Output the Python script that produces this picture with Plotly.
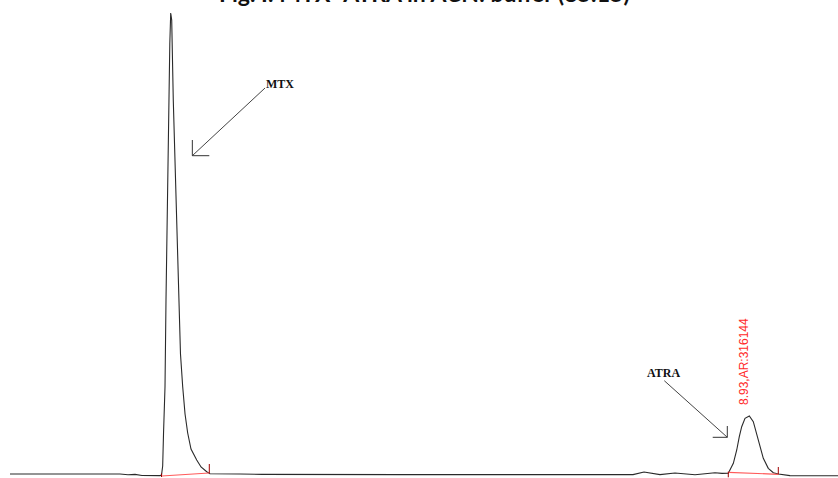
import plotly.graph_objects as go

# Chromatogram trace (time in min, detector response in mV)
time_min = [0.000, 0.121, 0.362, 0.604, 0.966, 1.329, 1.425, 1.510, 1.594, 1.751, 1.812, 1.830,
            1.844, 1.854, 1.872, 1.884, 1.900, 1.917, 1.930, 1.941, 1.953, 1.972, 2.005, 2.033,
            2.059, 2.086, 2.114, 2.146, 2.186, 2.255, 2.307, 2.376, 2.415, 2.778, 3.043, 4.710,
            7.524, 7.657, 7.754, 7.850, 8.031, 8.152, 8.273, 8.394, 8.514, 8.599, 8.675, 8.736,
            8.777, 8.808, 8.837, 8.877, 8.929, 8.977, 9.018, 9.058, 9.098, 9.158, 9.219, 9.279,
            9.420, 10.000]
signal_mv = [0.0, 0.0, -0.3, 0.2, 0.0, 0.0, -0.8, -0.4, -1.5, -1.8, -1.6, -1.0,
             8.0, 40.0, 87.0, 174.0, 274.0, 374.0, 430.0, 461.0, 454.0, 374.0, 274.0, 174.0,
             120.0, 87.0, 60.0, 41.0, 25.0, 14.0, 7.0, 2.3, 0.3, 0.0, -0.4, -0.6,
             -0.6, 2.0, 0.5, -0.6, 1.0, 0.3, -0.8, 0.3, 1.3, 0.6, 0.7, 10.7,
             24.0, 37.3, 47.3, 55.7, 58.0, 52.3, 40.7, 27.3, 15.7, 5.7, 1.3, 0.0,
             -1.6, -1.8]

# Integration baselines (start/end of each peak)
peak_names = ["MTX", "ATRA"]
peak_start_t = [1.830, 8.675]
peak_start_s = [-2.0, 1.7]
peak_end_t = [2.407, 9.279]
peak_end_s = [1.0, -0.3]
end_tick_top = [10.0, 7.0]
start_tick_top = [0.5, 2.3]
start_tick_bot = [-3.0, -3.3]

# Labels
peak_label = "8.93,AR:316144"
peak_label_t = 8.865
peak_label_s = 112
title_text = "Fig. I: MTX- ATRA in ACN: buffer (85:15)"

# Arrow annotations (label pos, arrow start, arrow tip, leg ends)
label_t = [3.255, 7.895]
label_s = [390, 101]
arrow_from_t = [3.080, 7.902]
arrow_from_s = [386, 93.3]
arrow_tip_t = [2.202, 8.663]
arrow_tip_s = [318.3, 36.7]
leg_v_s = [334, 48]
leg_h_t = [2.407, 8.487]

fig = go.Figure()
fig.add_trace(go.Scatter(x=time_min, y=signal_mv, mode="lines",
                         line=dict(color="#2a2a2a", width=1.1), hoverinfo="skip"))

for i in range(2):
    fig.add_trace(go.Scatter(x=[peak_start_t[i], peak_end_t[i]], y=[peak_start_s[i], peak_end_s[i]],
                             mode="lines", line=dict(color="#ff5a5a", width=1.2), hoverinfo="skip"))
    fig.add_trace(go.Scatter(x=[peak_end_t[i], peak_end_t[i]], y=[peak_end_s[i], end_tick_top[i]],
                             mode="lines", line=dict(color="#a00000", width=1), hoverinfo="skip"))
    fig.add_trace(go.Scatter(x=[peak_start_t[i], peak_start_t[i]], y=[start_tick_bot[i], start_tick_top[i]],
                             mode="lines", line=dict(color="#a00000", width=1), hoverinfo="skip"))
    # arrow line and L-shaped head
    fig.add_trace(go.Scatter(x=[arrow_from_t[i], arrow_tip_t[i]], y=[arrow_from_s[i], arrow_tip_s[i]],
                             mode="lines", line=dict(color="#444444", width=1), hoverinfo="skip"))
    fig.add_trace(go.Scatter(x=[arrow_tip_t[i], arrow_tip_t[i], leg_h_t[i]],
                             y=[leg_v_s[i], arrow_tip_s[i], arrow_tip_s[i]],
                             mode="lines", line=dict(color="#333333", width=1), hoverinfo="skip"))
    fig.add_annotation(x=label_t[i], y=label_s[i], text="<b>" + peak_names[i] + "</b>", showarrow=False,
                       font=dict(family="Liberation Serif", size=12, color="#111111"))

fig.add_annotation(x=peak_label_t, y=peak_label_s, text=peak_label, textangle=-90, showarrow=False,
                   font=dict(family="Liberation Sans", size=12, color="#ff2a2a"))

fig.add_annotation(x=0.5, y=1, xref="paper", yref="paper", xanchor="center", yanchor="bottom",
                   yshift=-9, text="<b>" + title_text + "</b>", showarrow=False,
                   font=dict(family="Lato", size=23, color="#111111"))

fig.update_layout(width=838, height=478, margin=dict(l=10, r=0, t=0, b=0),
                  paper_bgcolor="white", plot_bgcolor="white", showlegend=False,
                  xaxis=dict(range=[0, 10], visible=False, fixedrange=True),
                  yaxis=dict(range=[-4, 474], visible=False, fixedrange=True))

fig.write_html("out.html", config={"displayModeBar": False},
               post_script="document.body.style.margin='0px';")
